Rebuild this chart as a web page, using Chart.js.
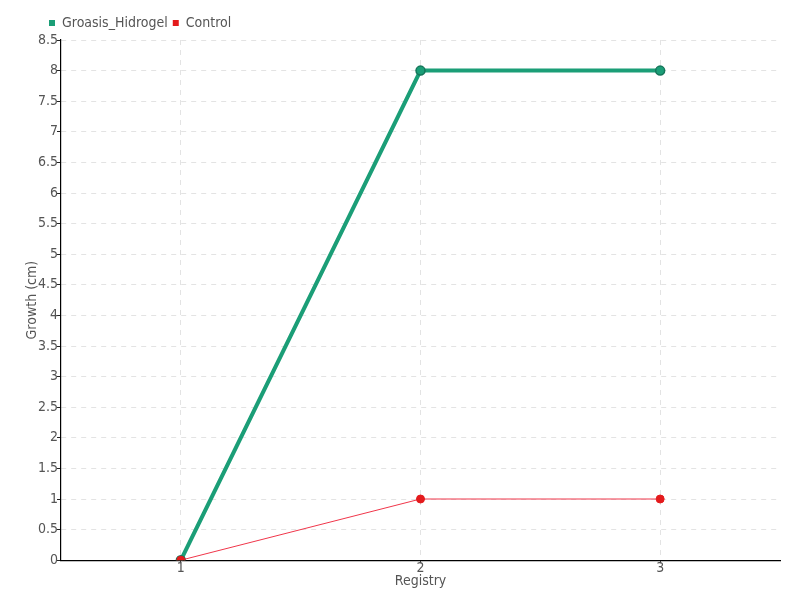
<!DOCTYPE html>
<html>
<head>
<meta charset="utf-8">
<script src="https://cdn.jsdelivr.net/npm/chart.js@4.4.1/dist/chart.umd.min.js"></script>
<style>
  html, body { margin: 0; padding: 0; background: #fff; }
  #wrap { width: 800px; height: 600px; }
</style>
</head>
<body>
<div id="wrap"><canvas id="growthChart" width="800" height="600"></canvas></div>
<script>
const registries = ['1', '2', '3'];
const hidrogelValues = [0, 8, 8];
const controlValues = [0, 1, 1];

const fontFamily = "'Liberation Sans Narrow', 'DejaVu Sans Condensed', sans-serif";
const textColor = '#555';

// legend sits a bit to the right, above the plot
const legendShift = {
  id: 'legendShift',
  afterLayout(chart) {
    chart.legend.left = 44;
  }
};

const ctx = document.getElementById('growthChart').getContext('2d');
new Chart(ctx, {
  type: 'line',
  data: {
    labels: registries,
    datasets: [
      {
        label: 'Groasis_Hidrogel',
        data: hidrogelValues,
        order: 2,
        borderColor: '#1b9e77',
        backgroundColor: '#1b9e77',
        borderWidth: 4,
        pointRadius: 4.5,
        pointBorderColor: '#15765a',
        pointBorderWidth: 1.5,
        pointBackgroundColor: '#1b9e77',
        tension: 0
      },
      {
        label: 'Control',
        data: controlValues,
        order: 1,
        borderColor: '#f0364a',
        backgroundColor: '#e41a1c',
        borderWidth: 1,
        pointRadius: 4,
        pointBorderColor: '#e41a1c',
        pointBorderWidth: 1,
        pointBackgroundColor: '#e41a1c',
        tension: 0
      }
    ]
  },
  plugins: [legendShift],
  options: {
    responsive: false,
    animation: false,
    layout: { padding: { left: 25, right: 20, top: 11, bottom: 12 } },
    plugins: {
      legend: {
        align: 'start',
        labels: {
          boxWidth: 6,
          boxHeight: 6,
          padding: 5,
          color: textColor,
          font: { family: fontFamily, size: 14 },
          sort: (a, b) => a.datasetIndex - b.datasetIndex,
          generateLabels(chart) {
            const items = Chart.defaults.plugins.legend.labels.generateLabels(chart);
            items.forEach(it => {
              it.lineWidth = 0;
              it.fillStyle = chart.data.datasets[it.datasetIndex].backgroundColor;
            });
            return items;
          }
        }
      },
      tooltip: { enabled: false }
    },
    scales: {
      x: {
        offset: true,
        grid: {
          offset: false,
          color: '#e3e3e3',
          tickColor: '#222',
          tickLength: 3
        },
        border: { color: '#000', width: 1.2, dash: [5, 5] },
        ticks: { color: textColor, padding: -3, font: { family: fontFamily, size: 14 } },
        title: {
          display: true,
          text: 'Registry',
          color: textColor,
          padding: 0,
          font: { family: fontFamily, size: 14, lineHeight: 1 }
        }
      },
      y: {
        min: 0,
        max: 8.5,
        ticks: {
          stepSize: 0.5,
          color: textColor,
          padding: -1,
          font: { family: fontFamily, size: 14 },
          callback: v => String(v)
        },
        grid: {
          color: '#e3e3e3',
          tickColor: '#222',
          tickLength: 4
        },
        border: { color: '#000', width: 1.2, dash: [5, 5] },
        title: {
          display: true,
          text: 'Growth (cm)',
          color: textColor,
          padding: 0,
          font: { family: fontFamily, size: 14, lineHeight: 1 }
        }
      }
    }
  }
});
</script>
</body>
</html>
